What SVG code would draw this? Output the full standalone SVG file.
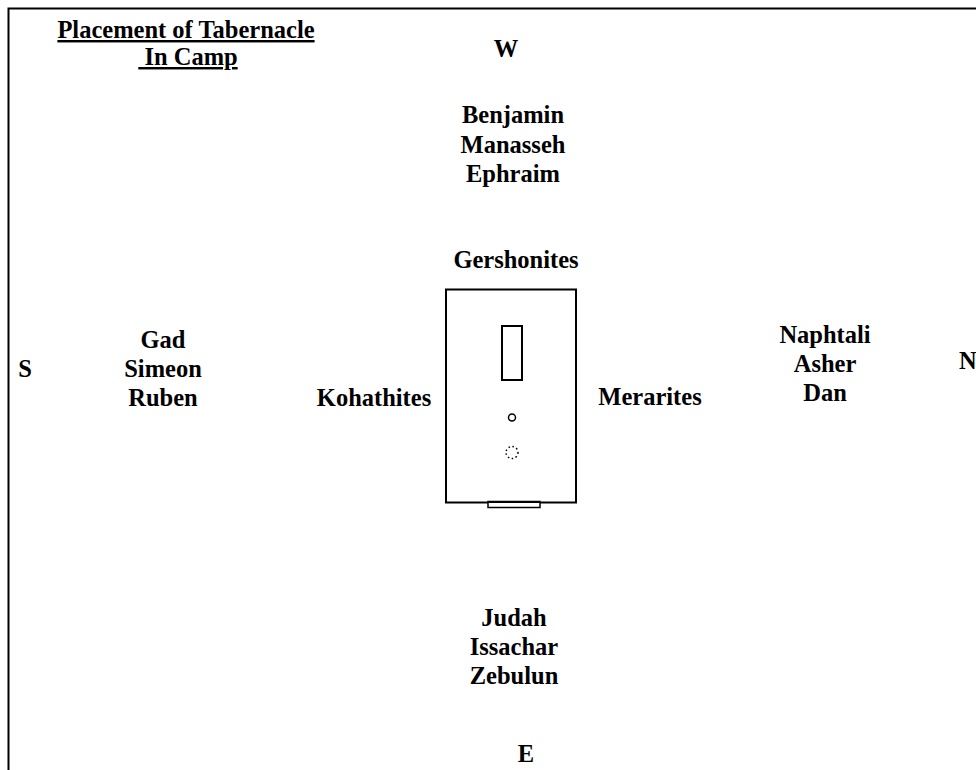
<svg xmlns="http://www.w3.org/2000/svg" width="976" height="770" viewBox="0 0 976 770">
<style>
text{font-family:"Liberation Serif","Times New Roman",serif;font-weight:bold;font-size:24.5px;fill:#000;text-anchor:middle}
.ln{fill:none;stroke:#000;stroke-width:2}
</style>
<rect x="0" y="0" width="976" height="770" fill="#fff"/>
<path class="ln" d="M8.5 775 V8.5 H980"/>
<g id="title">
<text x="186" y="38" text-decoration="underline">Placement of Tabernacle</text>
<text x="188" y="65" text-decoration="underline" xml:space="preserve"> In Camp</text>
</g>
<g id="west"><text x="506" y="57">W</text></g>
<g id="west-tribes">
<text x="513" y="123">Benjamin</text>
<text x="513" y="153">Manasseh</text>
<text x="513" y="182">Ephraim</text>
</g>
<g id="gershonites"><text x="516" y="268">Gershonites</text></g>
<g id="south"><text x="25" y="377">S</text></g>
<g id="south-tribes">
<text x="163" y="348">Gad</text>
<text x="163" y="377">Simeon</text>
<text x="163" y="406">Ruben</text>
</g>
<g id="kohathites"><text x="374" y="406">Kohathites</text></g>
<g id="merarites"><text x="650" y="405">Merarites</text></g>
<g id="north-tribes">
<text x="825" y="343">Naphtali</text>
<text x="825" y="372">Asher</text>
<text x="825" y="401">Dan</text>
</g>
<g id="north"><text x="959" y="369" style="text-anchor:start">N</text></g>
<g id="east-tribes">
<text x="514" y="626">Judah</text>
<text x="514" y="655">Issachar</text>
<text x="514" y="684">Zebulun</text>
</g>
<g id="east"><text x="526" y="762">E</text></g>
<g id="tabernacle">
<rect class="ln" x="446" y="289.5" width="130" height="213"/>
<rect class="ln" x="502" y="326" width="20" height="54"/>
<circle cx="512" cy="417.5" r="3.5" fill="none" stroke="#000" stroke-width="1.5"/>
<circle cx="512" cy="452.5" r="6" fill="none" stroke="#000" stroke-width="1.5" stroke-dasharray="1.5 2.5"/>
<rect x="488" y="501.5" width="52" height="6" fill="#fff" stroke="#000" stroke-width="1.5"/>
<line x1="488" y1="502" x2="540" y2="502" stroke="#000" stroke-width="2"/>
</g>
<g id="connectors"/>
</svg>
